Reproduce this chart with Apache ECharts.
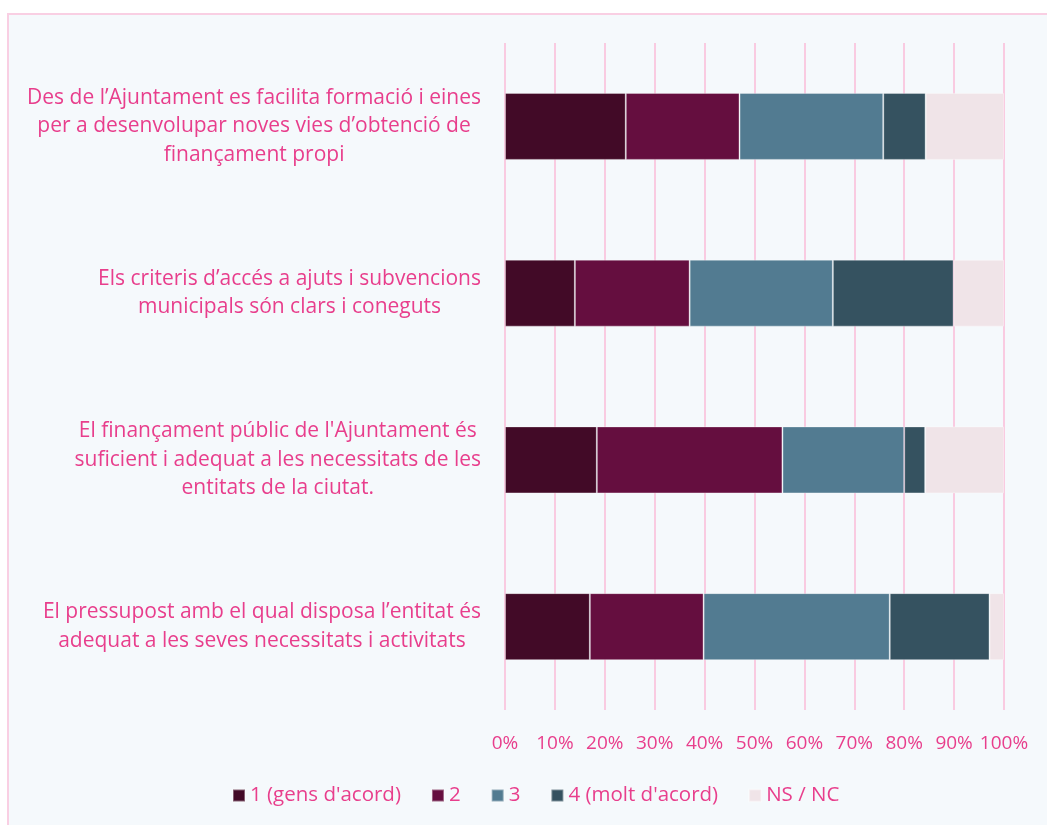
<!DOCTYPE html>
<html>
<head>
<meta charset="utf-8">
<script src="https://cdn.jsdelivr.net/npm/echarts@6/dist/echarts.min.js"></script>
<style>
  body { margin: 0; background: #ffffff; }
  #frame { position: absolute; left: 7px; top: 13px; width: 1100px; height: 900px;
           border: 2px solid #f9cfe3; background: #f5f9fc; }
  #chart { position: absolute; left: 0; top: 0; width: 1047px; height: 825px; }
</style>
</head>
<body>
<div id="frame"></div>
<div id="chart"></div>
<script>
var categories = [
    'Des de l’Ajuntament es facilita formació i eines\nper a desenvolupar noves vies d’obtenció de\nfinançament propi',
    'Els criteris d’accés a ajuts i subvencions\nmunicipals són clars i coneguts',
    'El finançament públic de l\'Ajuntament és\nsuficient i adequat a les necessitats de les\nentitats de la ciutat.',
    'El pressupost amb el qual disposa l’entitat és\nadequat a les seves necessitats i activitats'
];
var names = ['1 (gens d\'acord)', '2', '3', '4 (molt d\'acord)', 'NS / NC'];
var colors = ['#420a27', '#650e3f', '#527b91', '#355260', '#f0e4e8'];
var v1 = [24.2, 14.0, 18.4, 17.0];
var v2 = [22.8, 23.0, 37.2, 22.8];
var v3 = [28.8, 28.7, 24.4, 37.3];
var v4 = [8.5, 24.2, 4.2, 20.0];
var vNS = [15.7, 10.1, 15.8, 2.9];
var values = [v1, v2, v3, v4, vNS];

var pink = '#e83e8c';
var font = '"Open Sans", sans-serif';

var chart = echarts.init(document.getElementById('chart'));
chart.setOption({
    backgroundColor: 'transparent',
    grid: {left: 505, right: 43, top: 43, bottom: 115},
    legend: {
        bottom: 14,
        left: 227,
        itemWidth: 12,
        itemHeight: 12,
        itemGap: 30,
        icon: 'rect',
        textStyle: {color: pink, fontSize: 20.5, fontFamily: font},
        data: names
    },
    xAxis: {
        type: 'value',
        min: 0,
        max: 100,
        interval: 10,
        axisLine: {show: false},
        axisTick: {show: false},
        splitLine: {lineStyle: {color: '#f9cbe1', width: 2}},
        axisLabel: {
            color: pink, fontSize: 19, fontFamily: font, margin: 24,
            formatter: '{value}%'
        }
    },
    yAxis: {
        type: 'category',
        inverse: true,
        data: categories,
        axisLine: {show: false},
        axisTick: {show: false},
        axisLabel: {
            margin: 24,
            align: 'right',
            formatter: function (v) {
                return v.split('\n').map(function (l) { return '{c|' + l + '}'; }).join('\n');
            },
            rich: {
                c: {align: 'center', color: pink, fontSize: 21, fontFamily: font, lineHeight: 28.5}
            }
        }
    },
    series: names.map(function (n, i) {
        return {
            name: n,
            type: 'bar',
            stack: 'total',
            barWidth: 67,
            data: values[i],
            itemStyle: {color: colors[i], borderColor: 'rgba(255,255,255,0.35)', borderWidth: 1}
        };
    })
});
</script>
</body>
</html>
